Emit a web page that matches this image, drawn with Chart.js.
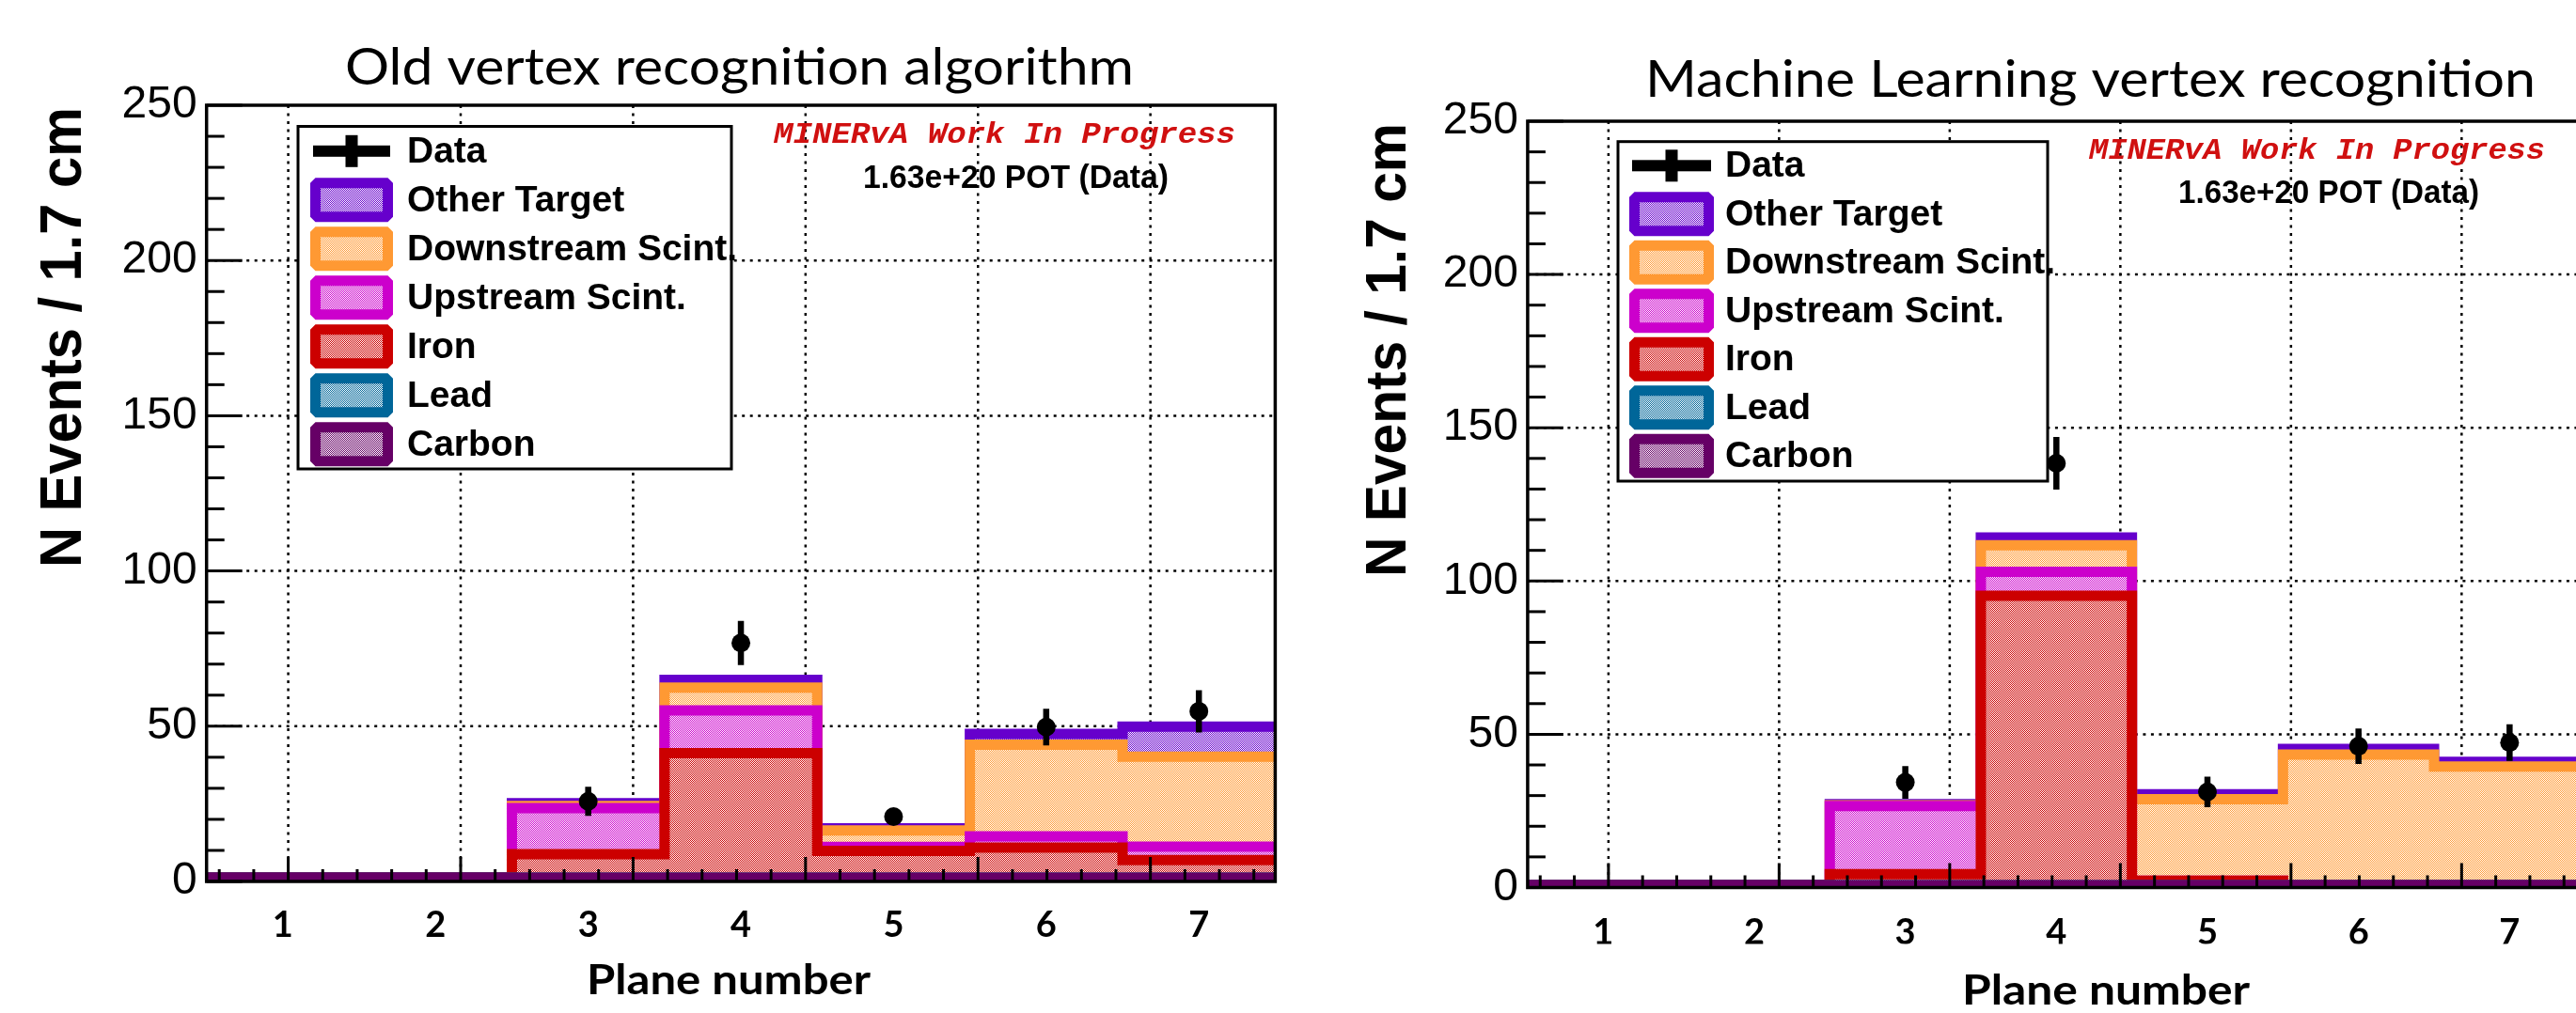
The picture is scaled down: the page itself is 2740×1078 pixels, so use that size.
<!DOCTYPE html>
<html><head><meta charset="utf-8">
<script src="https://cdn.jsdelivr.net/npm/chart.js@4.4.1/dist/chart.umd.min.js"></script>
<style>
html,body{margin:0;padding:0;background:#fff;overflow:hidden;width:2740px;height:1078px;}
#wrap{position:relative;width:2740px;height:1078px;overflow:hidden;background:#fff;}
canvas{position:absolute;top:0;}
#c1{left:0;} #c2{left:1370px;}
</style></head>
<body><div id="wrap"><canvas id="c1" width="1370" height="1078"></canvas><canvas id="c2" width="1400" height="1078"></canvas></div>
<script>
// ---------------- DATA ----------------
const planes = ['1','2','3','4','5','6','7'];
const seriesNames = ['Other Target','Downstream Scint.','Upstream Scint.','Iron','Lead','Carbon'];
const seriesColors = ['#6600cc','#ff9933','#cc00cc','#cc0000','#006699','#660066'];
const yTickStep = 50, yMax = 250;

// Left panel: old vertex recognition algorithm (per-component, not cumulative)
const oldOther      = [0, 0, 0.9, 2.5, 0.7, 3.5, 9.7];
const oldDownstream = [0, 0, 0.7, 7.3, 5.3, 29.5, 29.0];
const oldUpstream   = [0, 0, 14.85, 13.8, 1.3, 3.6, 4.3];
const oldIron       = [0, 0, 7.55, 40.1, 8.6, 9.7, 5.7];
const oldLead       = [0, 0, 0, 0, 0, 0, 0];
const oldCarbon     = [1.2, 1.2, 1.2, 1.2, 1.2, 1.2, 1.2];
const oldData       = [null, null, 25.8, 76.8, 20.9, 49.7, 54.8];
const oldDataErr    = [0, 0, 4.7, 7.1, 2.5, 5.9, 6.8];

// Right panel: machine learning vertex recognition
const mlOther       = [0, 0, 0.4, 2.5, 1.6, 1.8, 1.5];
const mlDownstream  = [0, 0, 0.2, 8.7, 26.6, 42.6, 38.7];
const mlUpstream    = [0, 0, 22.2, 7.8, 0, 0, 0];
const mlIron        = [0, 0, 3.6, 94.4, 1.4, 0, 0];
const mlLead        = [0, 0, 0, 0, 0, 0, 0];
const mlCarbon      = [0.8, 0.8, 0.8, 0.8, 0.8, 0.8, 0.8];
const mlData        = [null, null, 34.3, 138.4, 31.2, 46.1, 47.3];
const mlDataErr     = [0, 0, 5.3, 8.6, 5.0, 5.8, 6.0];

// ---------------- STYLE CONSTANTS ----------------
const GRID_START = 0.535, GRID_STEP = 1.1295; // original ROOT axis grid (in bin units)

function makePattern(color){
  const t = document.createElement('canvas'); t.width = 4; t.height = 4;
  const c = t.getContext('2d');
  c.fillStyle = '#fff'; c.fillRect(0,0,4,4);
  c.fillStyle = color;
  for (let y=0;y<4;y++) for (let x=0;x<4;x++) if ((x+y)%2===0) c.fillRect(x,y,1,1);
  return c.createPattern(t,'repeat');
}
function cumulativeStacks(components){
  const n = components.length, out = [];
  for (let k=0;k<n;k++){
    out.push(planes.map((_,i)=>{ let s=0; for (let j=k;j<n;j++) s+=components[j][i]; return s; }));
  }
  return out;
}
function stepPoints(values){
  const pts = values.map((v,i)=>({x:i, y:v}));
  pts.push({x:values.length, y:values[values.length-1]});
  return pts;
}
function errorPoints(vals, errs){
  const pts = [];
  vals.forEach((v,i)=>{ if (v==null) return;
    pts.push({x:i+0.5,y:v-errs[i]},{x:i+0.5,y:v+errs[i]},{x:i+0.5,y:null}); });
  return pts;
}
// draw text with a given cap height and total width (horizontal scaling)
function drawFitted(ctx, text, spec, family, cap, width, cx, baseline){
  ctx.font = spec + ' 100px ' + family;
  const capH = ctx.measureText('H').actualBoundingBoxAscent || 71.6;
  const size = 100*cap/capH;
  ctx.font = spec + ' ' + size.toFixed(2) + 'px ' + family;
  const w = ctx.measureText(text).width;
  ctx.save();
  ctx.translate(cx, baseline);
  ctx.scale(width/w, 1);
  ctx.textAlign = 'center';
  ctx.fillText(text, 0, 0);
  ctx.restore();
}
function line(ctx,x1,y1,x2,y2){ ctx.beginPath(); ctx.moveTo(x1,y1); ctx.lineTo(x2,y2); ctx.stroke(); }

const rootPlugin = {
  id: 'rootStyle',
  beforeDatasetsDraw(chart){
    const {ctx, chartArea:a, scales:{x,y}} = chart;
    ctx.save();
    ctx.beginPath(); ctx.rect(a.left,a.top,a.right-a.left,a.bottom-a.top); ctx.clip();
    ctx.strokeStyle = '#000'; ctx.lineWidth = 2.5; ctx.setLineDash([3,5.5]);
    for (let k=0;;k++){ const v = GRID_START + k*GRID_STEP; if (v > x.max) break;
      const px = x.getPixelForValue(v); line(ctx,px,a.top,px,a.bottom); }
    for (const t of y.ticks){ if (t.value<=y.min || t.value>=y.max) continue;
      const py = y.getPixelForValue(t.value); line(ctx,a.left,py,a.right,py); }
    ctx.restore();
  },
  afterDatasetsDraw(chart){
    const {ctx, chartArea:a, scales:{x,y}} = chart;
    ctx.save();
    ctx.strokeStyle = '#000'; ctx.lineWidth = 3; ctx.setLineDash([]);
    for (let v=0; v<=yMax; v+=10){ const py = y.getPixelForValue(v);
      line(ctx,a.left,py,a.left+(v%50===0?38:19),py); }
    const minor = GRID_STEP/5;
    for (let k=-10;k<60;k++){ const v = GRID_START + k*minor; if (v<x.min || v>x.max) continue;
      const px = x.getPixelForValue(v); line(ctx,px,a.bottom,px,a.bottom-(k%5===0?26:13)); }
    ctx.lineWidth = 3.5;
    ctx.strokeRect(a.left,a.top,a.right-a.left,a.bottom-a.top);
    ctx.restore();
  },
  afterDraw(chart, args, o){
    const ctx = chart.ctx;
    ctx.save();
    ctx.fillStyle = '#000'; ctx.textBaseline = 'alphabetic';
    drawFitted(ctx, o.title.text, 'normal 400', 'Lato', o.title.cap, o.title.width, o.title.cx, o.title.baseline);
    drawFitted(ctx, o.xtitle.text, 'normal 700', 'Lato', o.xtitle.cap, o.xtitle.width, o.xtitle.cx, o.xtitle.baseline);
    // y title (rotated)
    ctx.save(); ctx.translate(o.ytitle.cx, o.ytitle.cy); ctx.rotate(-Math.PI/2);
    drawFitted(ctx, o.ytitle.text, 'normal 700', '"Liberation Sans"', o.ytitle.cap, o.ytitle.length, 0, o.ytitle.cap/2);
    ctx.restore();
    ctx.fillStyle = '#d01010';
    drawFitted(ctx, o.minerva.text, 'italic 700', '"Liberation Mono"', o.minerva.cap, o.minerva.width, o.minerva.cx, o.minerva.baseline);
    ctx.fillStyle = '#000';
    drawFitted(ctx, o.pot.text, 'normal 700', '"Liberation Sans"', o.pot.cap, o.pot.width, o.pot.cx, o.pot.baseline);
    // legend
    const L = o.legend;
    ctx.fillStyle = '#fff'; ctx.fillRect(L.x, L.y, L.w, L.h);
    ctx.strokeStyle = '#000'; ctx.lineWidth = 3; ctx.strokeRect(L.x, L.y, L.w, L.h);
    ctx.font = 'bold 39px "Liberation Sans"'; ctx.textAlign = 'left'; ctx.textBaseline = 'middle';
    const ds = chart.data.datasets;
    const entries = [ds.find(d=>d.isData), ...ds.filter(d=>d.isHist)];
    entries.forEach((d,i)=>{
      const cy = L.row0 + i*L.step;
      if (d.isData){
        ctx.fillStyle = '#000';
        ctx.fillRect(L.swX+3, cy-6, L.swW-6, 12);
        ctx.fillRect(L.swX+L.swW/2-6.5, cy-17, 13, 34);
      } else {
        const lw = 11;
        ctx.fillStyle = d.backgroundColor;
        ctx.fillRect(L.swX+lw/2, cy-L.swH/2+lw/2, L.swW-lw, L.swH-lw);
        ctx.strokeStyle = d.borderColor; ctx.lineWidth = lw; ctx.lineJoin = 'bevel';
        ctx.strokeRect(L.swX+lw/2, cy-L.swH/2+lw/2, L.swW-lw, L.swH-lw);
      }
      ctx.fillStyle = '#000';
      ctx.fillText(d.label, L.textX, cy+1);
    });
    ctx.restore();
  }
};

function buildChart(canvasId, comps, dataVals, dataErrs, pad, texts){
  const stacks = cumulativeStacks(comps);
  const nS = seriesNames.length;
  const datasets = [
    {label:'Data', isData:true, data: dataVals.map((v,i)=> v==null?null:{x:i+0.5,y:v}).filter(Boolean),
     showLine:false, pointRadius:10, pointHoverRadius:10, pointBackgroundColor:'#000', pointBorderColor:'#000', pointBorderWidth:0, order:0, clip:false},
    {label:'Data error', data: errorPoints(dataVals, dataErrs), borderColor:'#000', borderWidth:6.5, pointRadius:0,
     spanGaps:false, fill:false, order:1, clip:false, borderCapStyle:'butt'},
    ...seriesNames.map((name,k)=>({label:name, isHist:true, data: stepPoints(stacks[k]), stepped:'before',
      borderColor: seriesColors[k], backgroundColor: makePattern(seriesColors[k]), borderWidth:11, pointRadius:0,
      fill:'origin', order: 2 + (nS-1-k), clip:0, borderJoinStyle:'miter', borderCapStyle:'butt'}))
  ];
  return new Chart(document.getElementById(canvasId), {
    type:'line',
    data:{datasets},
    options:{
      responsive:false, animation:false, devicePixelRatio:1, events:[],
      layout:{padding:pad},
      plugins:{legend:{display:false}, tooltip:{enabled:false}, rootStyle:texts},
      scales:{
        x:{type:'linear', min:0, max:planes.length, offset:false,
           afterBuildTicks(s){ s.ticks = planes.map((c,i)=>({value:i+0.5})); },
           afterFit(s){ s.height = 60; },
           ticks:{autoSkip:false, maxRotation:0, minRotation:0, padding:texts.xTickPad,
                  callback:(v,i)=>planes[i], color:'#000', font:{family:'Lato', weight:'bold', size:38}},
           grid:{display:false, drawTicks:false}, border:{display:false}},
        y:{type:'linear', min:0, max:yMax,
           afterFit(s){ s.width = 110; },
           ticks:{stepSize:yTickStep, padding:10, color:'#000', font:{family:'"Liberation Sans"', size:48}},
           grid:{display:false, drawTicks:false}, border:{display:false}}
      }
    },
    plugins:[rootPlugin]
  });
}

buildChart('c1', [oldOther, oldDownstream, oldUpstream, oldIron, oldLead, oldCarbon], oldData, oldDataErr,
  {left:109.7, top:112, right:13.6, bottom:80},
  { xTickPad: 24,
    title:{text:'Old vertex recognition algorithm', cx:786.5, baseline:90, width:839, cap:40},
    xtitle:{text:'Plane number', cx:775, baseline:1058, width:302, cap:32},
    ytitle:{text:'N Events / 1.7 cm', cx:64, cy:359, length:490, cap:44},
    minerva:{text:'MINERvA Work In Progress', cx:1068.5, baseline:152, width:491, cap:21},
    pot:{text:'1.63e+20 POT (Data)', cx:1080.5, baseline:200, width:325, cap:25},
    legend:{x:317, y:134.5, w:461, h:364.5, row0:160.8, step:52.0, swX:330, swW:88, swH:47, textX:433}
  });

buildChart('c2', [mlOther, mlDownstream, mlUpstream, mlIron, mlLead, mlCarbon], mlData, mlDataErr,
  {left:144.9, top:129, right:20.3, bottom:73.5},
  { xTickPad: 25,
    title:{text:'Machine Learning vertex recognition', cx:853.5, baseline:103.4, width:947, cap:39},
    xtitle:{text:'Plane number', cx:870, baseline:1068.5, width:306, cap:32},
    ytitle:{text:'N Events / 1.7 cm', cx:103, cy:372.5, length:483, cap:43},
    minerva:{text:'MINERvA Work In Progress', cx:1094.5, baseline:169, width:485, cap:21},
    pot:{text:'1.63e+20 POT (Data)', cx:1107, baseline:215.5, width:320, cap:25},
    legend:{x:351, y:150.7, w:457, h:361.3, row0:176.3, step:51.5, swX:363, swW:90, swH:47, textX:465}
  });
</script>
</body></html>
